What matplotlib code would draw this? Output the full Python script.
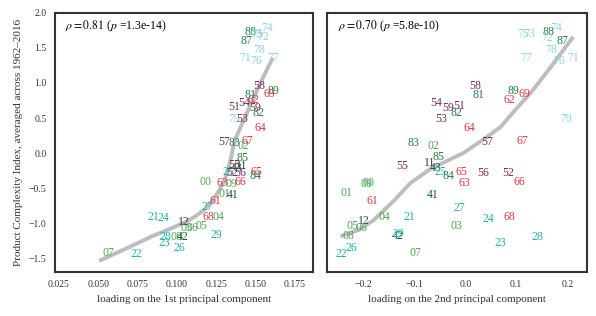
import matplotlib
matplotlib.use("Agg")
import matplotlib.pyplot as plt

plt.rcParams['font.family'] = ['Liberation Serif', 'DejaVu Serif']
plt.rcParams['mathtext.fontset'] = 'stix'

# SITC two-digit codes and their positions
codes_1 = ["88", "74", "72", "87", "73", "75", "78", "71", "76", "77",
           "58", "89", "69", "81", "62", "51", "54", "59", "82", "79", "53",
           "64", "57", "83", "67", "02", "85", "25", "52", "56", "55", "43",
           "11", "65", "84", "00", "63", "09", "66", "01", "41", "61", "27",
           "68", "04", "21", "24", "12", "03", "06", "05", "08", "42", "28",
           "23", "26", "29", "07", "22"]
pc1 = [0.1468, 0.1570, 0.1545, 0.1442, 0.1500, 0.1510, 0.1520, 0.1430, 0.1500, 0.1610,
       0.1525, 0.1610, 0.1590, 0.1468, 0.1487, 0.1365, 0.1430, 0.1494, 0.1520, 0.1365, 0.1417,
       0.1532, 0.1301, 0.1365, 0.1449, 0.1423, 0.1417, 0.1327, 0.1353, 0.1404, 0.1366, 0.1378,
       0.1410, 0.1506, 0.1500, 0.1179, 0.1288, 0.1346, 0.1404, 0.1300, 0.1353, 0.1243, 0.1192,
       0.1198, 0.1262, 0.0853, 0.0911, 0.1045, 0.1058, 0.1096, 0.1154, 0.1000, 0.1039, 0.0924,
       0.0917, 0.1013, 0.1250, 0.0564, 0.0744]
pci_1 = [1.73, 1.79, 1.66, 1.60, 1.70, 1.69, 1.47, 1.36, 1.31, 1.36,
         0.96, 0.89, 0.84, 0.83, 0.76, 0.66, 0.71, 0.64, 0.57, 0.49, 0.49,
         0.36, 0.16, 0.14, 0.17, 0.10, -0.07, -0.27, -0.29, -0.29, -0.17, -0.21,
         -0.19, -0.27, -0.33, -0.41, -0.43, -0.44, -0.41, -0.59, -0.60, -0.69, -0.77,
         -0.91, -0.91, -0.91, -0.93, -0.99, -1.07, -1.07, -1.04, -1.20, -1.20, -1.20,
         -1.29, -1.36, -1.17, -1.43, -1.44]

codes_2 = ["75", "73", "88", "74", "72", "87", "78", "77", "76", "71",
           "58", "81", "89", "69", "62", "54", "59", "51", "82", "53", "79",
           "64", "57", "67", "83", "02", "85", "55", "11", "43", "25", "84",
           "65", "63", "56", "52", "66", "00", "09", "01", "61", "41", "27",
           "04", "21", "24", "68", "03", "12", "05", "06", "08", "42", "29",
           "28", "23", "26", "22", "07"]
pc2 = [0.114, 0.125, 0.163, 0.178, 0.161, 0.190, 0.169, 0.120, 0.184, 0.212,
       0.020, 0.025, 0.094, 0.116, 0.086, -0.057, -0.033, -0.012, -0.018, -0.047, 0.198,
       0.008, 0.043, 0.112, -0.102, -0.063, -0.053, -0.124, -0.069, -0.059, -0.049, -0.033,
       -0.008, -0.002, 0.035, 0.084, 0.106, -0.190, -0.194, -0.233, -0.182, -0.063, -0.012,
       -0.159, -0.110, 0.045, 0.086, -0.018, -0.200, -0.222, -0.204, -0.229, -0.133, -0.131,
       0.141, 0.069, -0.224, -0.243, -0.098]
pci_2 = [1.70, 1.70, 1.73, 1.79, 1.64, 1.60, 1.47, 1.36, 1.31, 1.36,
         0.96, 0.83, 0.89, 0.84, 0.76, 0.71, 0.64, 0.67, 0.57, 0.49, 0.49,
         0.36, 0.16, 0.17, 0.14, 0.10, -0.06, -0.19, -0.14, -0.21, -0.27, -0.33,
         -0.27, -0.43, -0.29, -0.29, -0.41, -0.43, -0.44, -0.57, -0.69, -0.60, -0.79,
         -0.91, -0.91, -0.94, -0.91, -1.04, -0.97, -1.04, -1.07, -1.19, -1.19, -1.16,
         -1.20, -1.29, -1.36, -1.44, -1.43]

# smoothed trend lines
trend1_x = [0.0506, 0.0700, 0.0840, 0.0960, 0.1051, 0.1120, 0.1179, 0.1230, 0.1269,
            0.1300, 0.1320, 0.1345, 0.1365, 0.1450, 0.1530, 0.1609]
trend1_y = [-1.54, -1.34, -1.19, -1.08, -0.99, -0.90, -0.80, -0.67, -0.53,
            -0.40, -0.27, -0.05, 0.17, 0.60, 1.00, 1.36]
trend2_x = [-0.245, -0.210, -0.180, -0.140, -0.108, -0.069, -0.035, -0.004, 0.035,
            0.069, 0.100, 0.133, 0.170, 0.212]
trend2_y = [-1.19, -1.10, -0.96, -0.68, -0.43, -0.23, -0.11, 0.00, 0.19,
            0.37, 0.63, 0.90, 1.25, 1.66]

stats = ["$\\rho = 0.81$ ($p$ =1.3e-14)", "$\\rho = 0.70$ ($p$ =5.8e-10)"]
xlabels = ["loading on the 1st principal component",
           "loading on the 2nd principal component"]

group_colors = {"0": "#4fa84f", "1": "#3a3a3a", "2": "#1fb0b0", "4": "#145c32",
                "5": "#7a2a5c", "6": "#e8363c", "7": "#8ed3e6", "8": "#1f7f45"}

fig = plt.figure(figsize=(5.96, 3.16), dpi=100)
ax1 = fig.add_axes([0.0923, 0.139, 0.433, 0.820])
ax2 = fig.add_axes([0.549, 0.139, 0.436, 0.820])

panels = [(ax1, codes_1, pc1, pci_1, trend1_x, trend1_y),
          (ax2, codes_2, pc2, pci_2, trend2_x, trend2_y)]

for i, (ax, codes, xs, ys, tx, ty) in enumerate(panels):
    ax.plot(tx, ty, color="#bdbdbd", lw=2.8, zorder=1, solid_capstyle="butt",
            solid_joinstyle="round")
    for c, x, y in zip(codes, xs, ys):
        ax.text(x, y, c, color=group_colors[c[0]], fontsize=8.5,
                ha="center", va="center", zorder=2)
    ax.text(0.04, 0.95, stats[i], transform=ax.transAxes, fontsize=8.5,
            ha="left", va="center")
    ax.set_xlabel(xlabels[i], fontsize=8, color="#333333")
    ax.set_ylim(-1.7, 2.0)
    ax.tick_params(length=0, labelsize=7, colors="#333333", pad=6)
    for s in ax.spines.values():
        s.set_color("#333333")
        s.set_linewidth(1.5)

ax1.set_xlim(0.0225, 0.1865)
ax1.set_xticks([0.025, 0.050, 0.075, 0.100, 0.125, 0.150, 0.175])
ax1.set_xticklabels(["0.025", "0.050", "0.075", "0.100", "0.125", "0.150", "0.175"])
ax1.set_yticks([-1.5, -1.0, -0.5, 0.0, 0.5, 1.0, 1.5, 2.0])
ax1.set_ylabel("Product Complexity Index, averaged across 1962\u20132016",
               fontsize=8, color="#333333")

ax2.set_xlim(-0.271, 0.239)
ax2.set_xticks([-0.2, -0.1, 0.0, 0.1, 0.2])
ax2.set_xticklabels(["\u22120.2", "\u22120.1", "0.0", "0.1", "0.2"])
ax2.set_yticks([])

fig.savefig("out.png", dpi=100)
